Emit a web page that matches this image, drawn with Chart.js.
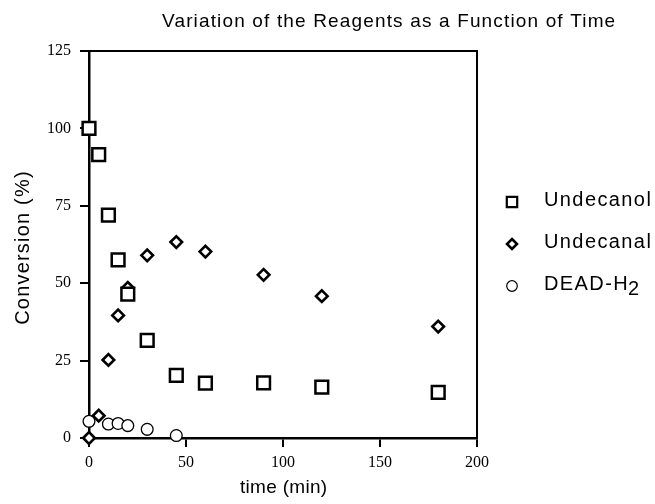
<!DOCTYPE html>
<html><head><meta charset="utf-8">
<script src="https://cdn.jsdelivr.net/npm/chart.js@4/dist/chart.umd.min.js"></script>
<style>html,body{margin:0;padding:0;background:#fff}canvas{display:block}</style>
</head><body>
<canvas id="c" width="655" height="504"></canvas>
<script>
// ---- data ----
const titleText = 'Variation of the Reagents as a Function of Time';
const xTitleText = 'time (min)';
const yTitleText = 'Conversion (%)';
const seriesNames = ['Undecanol', 'Undecanal', 'DEAD-H2'];

const undecanolTime = [0, 5, 10, 15, 20, 30, 45, 60, 90, 120, 180];
const undecanolValues = [100, 91.5, 72, 57.5, 46.5, 31.5, 20.2, 17.7, 17.8, 16.4, 14.7];

const undecanalTime = [0, 5, 10, 15, 20, 30, 45, 60, 90, 120, 180];
const undecanalValues = [0, 7.2, 25.2, 39.6, 48.5, 59, 63.3, 60.2, 52.7, 45.8, 36];

const deadTime = [0, 10, 15, 20, 30, 45];
const deadValues = [5.4, 4.5, 4.7, 4.0, 2.8, 0.8];

const xTicks = [0, 50, 100, 150, 200];
const yTicks = [0, 25, 50, 75, 100, 125];

function pts(xs, ys) { return xs.map((x, i) => ({x: x, y: ys[i]})); }

const SANS = '"Liberation Sans", Arial, Helvetica, sans-serif';
const SERIF = '"Liberation Serif", "Times New Roman", serif';

function spacedText(ctx, text, x, y, spacing) {
  ctx.letterSpacing = spacing + 'px';
  ctx.fillText(text, x, y);
  ctx.letterSpacing = '0px';
}

const framePlugin = {
  id: 'frame',
  beforeDraw(chart) {
    const ctx = chart.ctx;
    ctx.save();
    ctx.fillStyle = '#fff';
    ctx.fillRect(0, 0, chart.width, chart.height);
    ctx.restore();
  },
  beforeDatasetsDraw(chart) {
    const {ctx, chartArea: a} = chart;
    ctx.save();
    ctx.strokeStyle = '#000';
    ctx.lineWidth = 2;
    ctx.beginPath();
    ctx.moveTo(a.left, a.top);
    ctx.lineTo(a.right, a.top);
    ctx.lineTo(a.right, a.bottom);
    ctx.stroke();
    ctx.restore();
  },
  afterDraw(chart) {
    const ctx = chart.ctx;
    ctx.save();
    ctx.fillStyle = '#000';
    // title
    ctx.font = '19px ' + SANS;
    ctx.textAlign = 'left';
    ctx.textBaseline = 'alphabetic';
    spacedText(ctx, titleText, 162, 27, 1.15);
    // x title
    ctx.font = '19px ' + SANS;
    spacedText(ctx, xTitleText, 240, 493, 0.3);
    // y title
    ctx.save();
    ctx.translate(23, 247.5);
    ctx.rotate(-Math.PI / 2);
    ctx.font = '20px ' + SANS;
    ctx.letterSpacing = '1.2px';
    const w = ctx.measureText(yTitleText).width;
    ctx.textBaseline = 'middle';
    ctx.fillText(yTitleText, -w / 2, 0);
    ctx.letterSpacing = '0px';
    ctx.restore();
    // legend
    const rows = [200, 242, 284];
    chart.data.datasets.forEach((ds, i) => {
      const y = rows[i];
      const my = y + 2;
      const mx = 512;
      ctx.save();
      ctx.strokeStyle = '#000';
      ctx.fillStyle = '#fff';
      ctx.beginPath();
      if (ds.pointStyle === 'rect') {
        ctx.lineWidth = 2.2;
        ctx.rect(mx - 5.2, my - 5.2, 10.4, 10.4);
      } else if (ds.pointStyle === 'rectRot') {
        ctx.lineWidth = 2.6;
        ctx.moveTo(mx, my - 5); ctx.lineTo(mx + 5, my); ctx.lineTo(mx, my + 5); ctx.lineTo(mx - 5, my); ctx.closePath();
      } else {
        ctx.lineWidth = 1.2;
        ctx.arc(mx, my, 5.3, 0, Math.PI * 2);
      }
      ctx.fill();
      ctx.stroke();
      ctx.restore();
      ctx.font = '20px ' + SANS;
      ctx.textBaseline = 'middle';
      ctx.fillStyle = '#000';
      const label = ds.label;
      const m = label.match(/^(.*?)(\d+)$/);
      if (m && label.startsWith('DEAD')) {
        ctx.letterSpacing = '1.4px';
        ctx.fillText(m[1], 544, y);
        const w1 = ctx.measureText(m[1]).width;
        ctx.fillText(m[2], 544 + w1 - 1, y + 5);
        ctx.letterSpacing = '0px';
      } else {
        spacedText(ctx, label, 544, y, 1.4);
      }
    });
    ctx.restore();
  }
};

const chart = new Chart(document.getElementById('c'), {
  type: 'scatter',
  data: {
    datasets: [
      {label: seriesNames[0], data: pts(undecanolTime, undecanolValues), pointStyle: 'rect',
       pointRadius: 9, pointBorderWidth: 2.5, borderColor: '#000', backgroundColor: '#fff', clip: false},
      {label: seriesNames[1], data: pts(undecanalTime, undecanalValues), pointStyle: 'rectRot',
       pointRadius: 5.8, pointBorderWidth: 2.6, borderColor: '#000', backgroundColor: '#fff', clip: false},
      {label: seriesNames[2], data: pts(deadTime, deadValues), pointStyle: 'circle',
       pointRadius: 5.9, pointBorderWidth: 1.3, borderColor: '#000', backgroundColor: '#fff', clip: false}
    ]
  },
  options: {
    responsive: false,
    animation: false,
    devicePixelRatio: 1,
    layout: {padding: {top: 51, right: 178, bottom: 0, left: 0}},
    plugins: {legend: {display: false}, title: {display: false}, tooltip: {enabled: false}},
    scales: {
      x: {
        type: 'linear',
        min: xTicks[0], max: xTicks[xTicks.length - 1],
        afterBuildTicks: s => { s.ticks = xTicks.map(v => ({value: v})); },
        afterFit: s => { s.height = 66; },
        grid: {display: true, drawOnChartArea: false, drawTicks: true, tickLength: 9, color: '#000', lineWidth: 2},
        border: {display: true, color: '#000', width: 2.5},
        ticks: {color: '#000', font: {family: SERIF, size: 16}, padding: 6, maxRotation: 0}
      },
      y: {
        type: 'linear',
        min: yTicks[0], max: yTicks[yTicks.length - 1],
        afterBuildTicks: s => { s.ticks = yTicks.map(v => ({value: v})); },
        afterFit: s => { s.width = 89; },
        grid: {display: true, drawOnChartArea: false, drawTicks: true, tickLength: 9, color: '#000', lineWidth: 2},
        border: {display: true, color: '#000', width: 2.5},
        ticks: {color: '#000', font: {family: SERIF, size: 16}, padding: 9}
      }
    }
  },
  plugins: [framePlugin]
});
</script>
</body></html>
